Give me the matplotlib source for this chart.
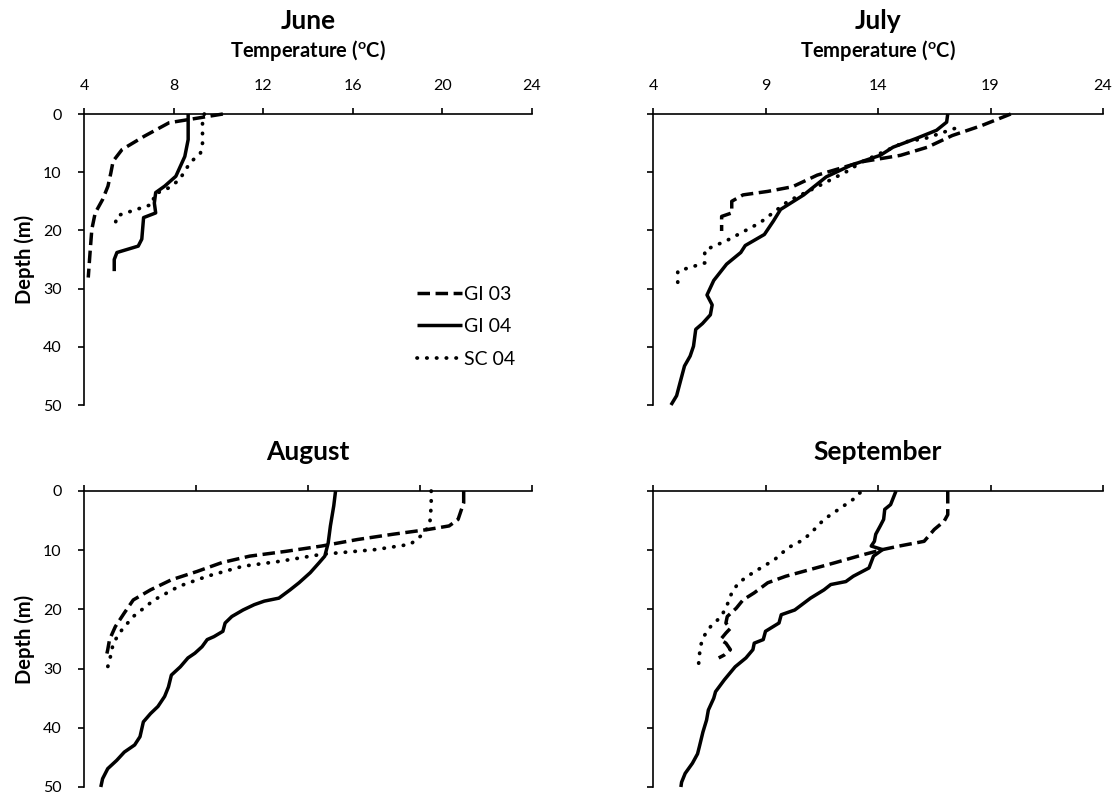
import numpy as np
import matplotlib
matplotlib.use("Agg")
import matplotlib.pyplot as plt

plt.rcParams['font.family'] = ['Lato', 'DejaVu Sans']

# temperature (C) / depth (m) profiles
jun_gi03_t = [10.2, 7.8, 6.7, 5.7, 5.3, 5.2, 5.07, 4.83, 4.5, 4.35, 4.27, 4.19]
jun_gi03_d = [0, 1.5, 3.8, 6.1, 8.1, 10.1, 12.4, 14.7, 17, 19.8, 23.8, 28.1]
jun_gi04_t = [8.65, 8.65, 8.5, 8.1, 7.6, 7.2, 7.14, 7.2, 6.66, 6.58, 6.42, 5.47, 5.35, 5.35]
jun_gi04_d = [0, 4.4, 7.3, 10.7, 12.4, 13.5, 15.3, 17, 17.8, 21.5, 22.7, 23.8, 25, 27]
jun_sc04_t = [9.37, 9.29, 9.29, 9.2, 8.73, 8.26, 7.78, 7.14, 7.06, 6.34, 5.47, 5.39]
jun_sc04_d = [0, 1.5, 5, 6.7, 8.4, 11.3, 12.7, 13.8, 15.5, 16.4, 17.5, 19]

jul_gi03_t = [19.9, 18.6, 17.3, 16.2, 15.0, 13.3, 11.3, 10.2, 9.1, 8.0, 7.5, 7.5, 7.05, 7.05]
jul_gi03_d = [0, 2, 3.7, 5.7, 7.1, 8.2, 10.5, 12.5, 13.3, 13.9, 15, 17, 17.6, 20.1]
jul_gi04_t = [17.1, 17.05, 16.6, 15.7, 14.67, 14.1, 12.8, 11.7, 10.7, 9.67, 9.35, 8.95,
              8.1, 7.9, 7.27, 6.7, 6.4, 6.63, 6.55, 6.2, 5.9, 5.8, 5.65, 5.4, 5.2, 5.05, 4.8]
jul_gi04_d = [0, 1.4, 2.8, 4.2, 5.7, 7.1, 8.8, 10.8, 13.9, 16.4, 18.4, 20.7,
              22.6, 23.8, 25.8, 28.6, 31.1, 32.8, 34.5, 36, 37, 39.9, 41.6, 43.3, 46.2, 48.4, 50]
jul_sc04_t = [17.4, 16.1, 15.2, 13.3, 12.6, 11.3, 10.0, 8.75, 7.3, 6.3, 6.3, 5.1, 5.1]
jul_sc04_d = [2.5, 4.2, 4.8, 8.2, 9.9, 12.5, 15, 18.7, 21.7, 23.4, 25.6, 27.0, 29.7]

aug_gi03_t = [20.95, 20.95, 20.7, 20.3, 19.36, 17.8, 16.2, 14.6, 13.0, 11.4, 10.15,
              9.04, 7.9, 6.97, 6.2, 5.8, 5.4, 5.14, 5.06, 4.98]
aug_gi03_d = [0, 2, 4.8, 5.9, 6.5, 7.3, 8.2, 9.3, 10.2, 11, 12.1,
              13.6, 15, 16.7, 18.4, 20.6, 22.9, 25.1, 26.8, 28.2]
aug_gi04_t = [15.23, 15.15, 15.0, 14.9, 14.75, 14.5, 14.1, 13.6, 13.2, 12.7, 12.05, 11.6,
              11.1, 10.6, 10.3, 10.2, 9.8, 9.5, 9.27, 8.95, 8.64, 8.3, 7.9, 7.77, 7.6,
              7.3, 6.97, 6.65, 6.5, 6.26, 5.8, 5.46, 5.06, 4.83, 4.75]
aug_gi04_d = [0, 2.5, 5.9, 8.8, 11, 12.1, 13.8, 15.5, 16.7, 18.1, 18.6, 19.2,
              20.1, 21.2, 22.3, 23.7, 24.6, 25.1, 26.3, 27.4, 28.2, 29.7, 31.1, 33.1, 34.7,
              36.4, 37.6, 39, 41.5, 42.9, 44.1, 45.5, 46.9, 48.6, 50]
aug_sc04_t = [19.5, 19.5, 19.44, 19.2, 18.57, 17.0, 14.6, 12.7, 11.1, 9.5, 8.24,
              7.13, 6.2, 5.7, 5.3, 5.22, 5.06]
aug_sc04_d = [0, 2.5, 5.4, 7.1, 9, 9.9, 10.7, 11.9, 12.7, 14.4, 16.1,
              18.4, 21.2, 23.4, 25.7, 27.4, 29.7]

sep_gi03_t = [17.1, 17.1, 16.94, 16.5, 16.05, 14.94, 14.2, 13.4, 12.1, 9.9, 9.1, 8.5,
              8.0, 7.7, 7.3, 7.24, 7.44, 7.24, 7.0, 7.24, 7.44, 7.17, 6.92]
sep_gi03_d = [0, 4, 5.1, 6.5, 8.5, 9.3, 9.9, 10.7, 12.1, 14.4, 15.5, 17.2,
              18.4, 19.8, 21.2, 22.3, 23.2, 24, 25.1, 25.7, 26.8, 27.7, 28.2]
sep_gi04_t = [14.8, 14.56, 14.3, 14.25, 14.1, 13.9, 13.84, 13.7, 14.2, 13.8, 13.6, 12.9,
              12.57, 11.9, 11.6, 11.0, 10.3, 9.7, 9.6, 9.0, 8.9, 8.5, 8.44, 8.13, 7.65,
              7.17, 6.78, 6.7, 6.46, 6.38, 6.22, 6.06, 5.98, 5.75, 5.43, 5.27, 5.24]
sep_gi04_d = [0, 2.3, 3.1, 4.8, 5.9, 7.3, 8.5, 9.3, 9.9, 11, 13, 14.4,
              15.3, 15.8, 16.7, 18.1, 20.1, 20.9, 22.3, 23.7, 25.1, 25.7, 26.8, 28.2, 29.7,
              31.9, 33.9, 35, 37, 38.7, 40.7, 43.2, 44.4, 46, 47.7, 49.2, 50]
sep_sc04_t = [13.2, 12.9, 12.25, 11.6, 11.17, 10.7, 10.0, 9.4, 8.44, 7.8, 7.5, 7.27,
              7.03, 6.56, 6.25, 6.1, 6.03]
sep_sc04_d = [0.3, 1.4, 3.1, 4.8, 6.5, 8.2, 9.6, 11.6, 13.8, 15.5, 17.2, 19.5,
              21.2, 22.9, 24.6, 26.3, 29.1]

months = ["June", "July", "August", "September"]
series_names = ["GI 03", "GI 04", "SC 04"]
profiles = [
    [(jun_gi03_t, jun_gi03_d), (jun_gi04_t, jun_gi04_d), (jun_sc04_t, jun_sc04_d)],
    [(jul_gi03_t, jul_gi03_d), (jul_gi04_t, jul_gi04_d), (jul_sc04_t, jul_sc04_d)],
    [(aug_gi03_t, aug_gi03_d), (aug_gi04_t, aug_gi04_d), (aug_sc04_t, aug_sc04_d)],
    [(sep_gi03_t, sep_gi03_d), (sep_gi04_t, sep_gi04_d), (sep_sc04_t, sep_sc04_d)],
]
x_ticks = [np.arange(4, 25, 4), np.arange(4, 25, 5), np.arange(4, 25, 5), np.arange(4, 25, 5)]
depth_ticks = np.arange(0, 51, 10)

styles = [
    dict(linestyle=(0, (3.6, 1.6)), linewidth=2.5),
    dict(linestyle="-", linewidth=2.5),
    dict(linestyle=(0, (0.1, 2.5)), linewidth=2.7, dash_capstyle="round"),
]

W, H = 1120, 799
fig = plt.figure(figsize=(W / 100, H / 100), dpi=100)

# axes boxes in pixels: left, right, top, bottom
boxes = [(84, 532, 114, 405), (653, 1103, 114, 405),
         (84, 532, 491, 787), (653, 1103, 491, 787)]

for i, (month, box) in enumerate(zip(months, boxes)):
    l, r, t, b = box
    ax = fig.add_axes([l / W, 1 - b / H, (r - l) / W, (b - t) / H])
    for (temp, depth), name, st in zip(profiles[i], series_names, styles):
        ax.plot(temp, depth, color="black", label=name, clip_on=False,
                solid_capstyle="butt", **st)
    ax.set_xlim(4, 24)
    ax.set_ylim(50, 0)
    ax.set_xticks(x_ticks[i])
    ax.set_yticks(depth_ticks)
    ax.xaxis.tick_top()
    ax.xaxis.set_label_position("top")
    for s in ["right", "bottom"]:
        ax.spines[s].set_visible(False)
    for s in ["left", "top"]:
        ax.spines[s].set_linewidth(1.2)
    ax.tick_params(direction="out", length=4, width=1.2, labelsize=11.5)
    ax.tick_params(axis="x", pad=11)
    ax.tick_params(axis="y", pad=12)
    if i in (0, 1):
        ax.set_xlabel("Temperature ($\\mathregular{^o}$C)", fontsize=14.5,
                      fontweight="bold", labelpad=16)
    else:
        ax.tick_params(axis="x", labeltop=False)
    if i in (0, 2):
        ax.set_ylabel("Depth (m)", fontsize=14.5, fontweight="bold", labelpad=6)
    else:
        ax.tick_params(axis="y", labelleft=False)
    ax.set_title(month, fontsize=19, fontweight="bold", pad=(61.5 if i < 2 else 22))
    if i == 0:
        ax.legend(loc="upper left", bbox_to_anchor=(0.705, 0.47), frameon=False,
                  fontsize=14, handlelength=2.3, handletextpad=0.1, labelspacing=0.8)

fig.savefig("out.png", dpi=100)
